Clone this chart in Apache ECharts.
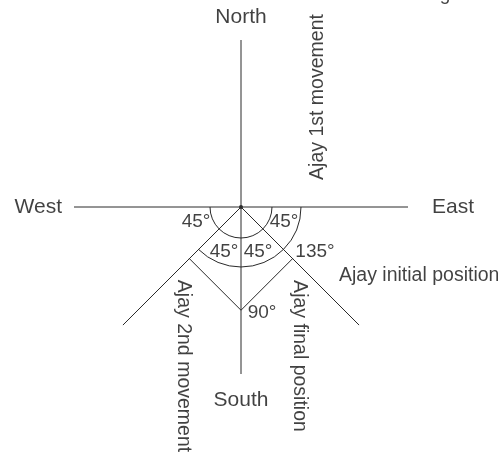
<!DOCTYPE html>
<html>
<head>
<meta charset="utf-8">
<script src="https://cdn.jsdelivr.net/npm/echarts@6/dist/echarts.min.js"></script>
<style>
html,body{margin:0;padding:0;background:#fff;}
#chart{width:498px;height:458px;}
</style>
</head>
<body>
<div id="chart"></div>
<script>
// ---- data ----
const directions = ['North', 'East', 'South', 'West'];
const directionAngles = [90, 0, 270, 180];           // degrees (math convention)
const rayNames = ['Ajay initial position', 'Ajay 2nd movement line'];
const rayAngles = [315, 225];                          // SE and SW rays
const armLength = 167;                                 // length of every arm from the centre
const movementSide = 73;                               // side of the movement square
const arcRadii = [31, 60];
const arcStartAngles = [180, 225];                     // degrees, math convention, sweeping counter-clockwise
const arcEndAngles = [360, 360];
const angleLabels = ['45°', '45°', '45°', '45°', '135°', '90°'];
const movementLabels = ['Ajay 1st movement', 'Ajay initial position', 'Ajay 2nd movement', 'Ajay final position'];
const cutTitleText = ['g'];

// ---- layout (label anchors in chart units relative to the centre) ----
const dirLabelPos = [[0, 190, 'center', 0], [191, 0, 'left', 0], [0, -193, 'center', 0], [-179, 0, 'right', 0]];
const angleLabelPos = [[-45, -15], [43, -15], [-17, -45], [17, -45], [74, -45], [21, -106]];
const moveLabelPos = [[77, 110, 'center', 90], [98, -69, 'left', 0], [-58, -159, 'center', -90], [58, -149, 'center', -90]];
const cutTitlePos = [[204, 212.5]];

const rad = d => d * Math.PI / 180;
const pt = (ang, len) => [len * Math.cos(rad(ang)), len * Math.sin(rad(ang))];

const lineColor = '#2a2a2a';
const textColor = '#111';
const fontFamily = '"Liberation Sans", Arial, sans-serif';

const series = [];
function seg(a, b) {
  series.push({
    type: 'line', data: [a, b], symbol: 'none', silent: true, animation: false,
    lineStyle: { color: lineColor, width: 1 }
  });
}
// compass arms
directionAngles.forEach(a => seg([0, 0], pt(a, armLength)));
// diagonal rays
rayAngles.forEach(a => seg([0, 0], pt(a, armLength)));
// movement square (2nd movement and final position)
const pSW = pt(rayAngles[1], movementSide);
const pSE = pt(rayAngles[0], movementSide);
const corner = [0, -movementSide * Math.SQRT2];
seg(pSW, corner);
seg(corner, pSE);

// arcs
series.push({
  type: 'custom', silent: true, animation: false,
  data: arcRadii.map((r, i) => [r, arcStartAngles[i], arcEndAngles[i]]),
  renderItem: function (params, api) {
    const c = api.coord([0, 0]);
    const r = api.size([api.value(0), 0])[0];
    // screen angles are clockwise positive: negate math angles
    const s = -rad(api.value(1));
    const e = -rad(api.value(2));
    return {
      type: 'arc',
      shape: { cx: c[0], cy: c[1], r: r, startAngle: s, endAngle: e, clockwise: false },
      style: { fill: 'none', stroke: lineColor, lineWidth: 1 }
    };
  }
});

// centre dot
series.push({
  type: 'scatter', data: [[0, 0]], symbolSize: 4, silent: true, animation: false,
  itemStyle: { color: '#000' }
});

function labels(texts, pos, size) {
  series.push({
    type: 'scatter', symbolSize: 0, silent: true, animation: false, clip: false,
    data: texts.map((t, i) => ({ name: t, value: [pos[i][0], pos[i][1]],
      label: { align: pos[i][2] || 'center', rotate: pos[i][3] || 0 } })),
    label: {
      show: true, position: 'inside', formatter: '{b}', color: textColor,
      fontSize: size, fontFamily: fontFamily, verticalAlign: 'middle'
    }
  });
}
labels(directions, dirLabelPos, 21);
labels(angleLabels, angleLabelPos, 19);
labels(movementLabels, moveLabelPos, 19.5);
labels(cutTitleText, cutTitlePos, 19);

const chart = echarts.init(document.getElementById('chart'), null, { renderer: 'canvas' });
chart.setOption({
  backgroundColor: '#fff',
  animation: false,
  grid: { left: 0, right: 0, top: 0, bottom: 0 },
  xAxis: { type: 'value', min: -241, max: 257, show: false },
  yAxis: { type: 'value', min: -251, max: 207, show: false },
  series: series
});
</script>
</body>
</html>
